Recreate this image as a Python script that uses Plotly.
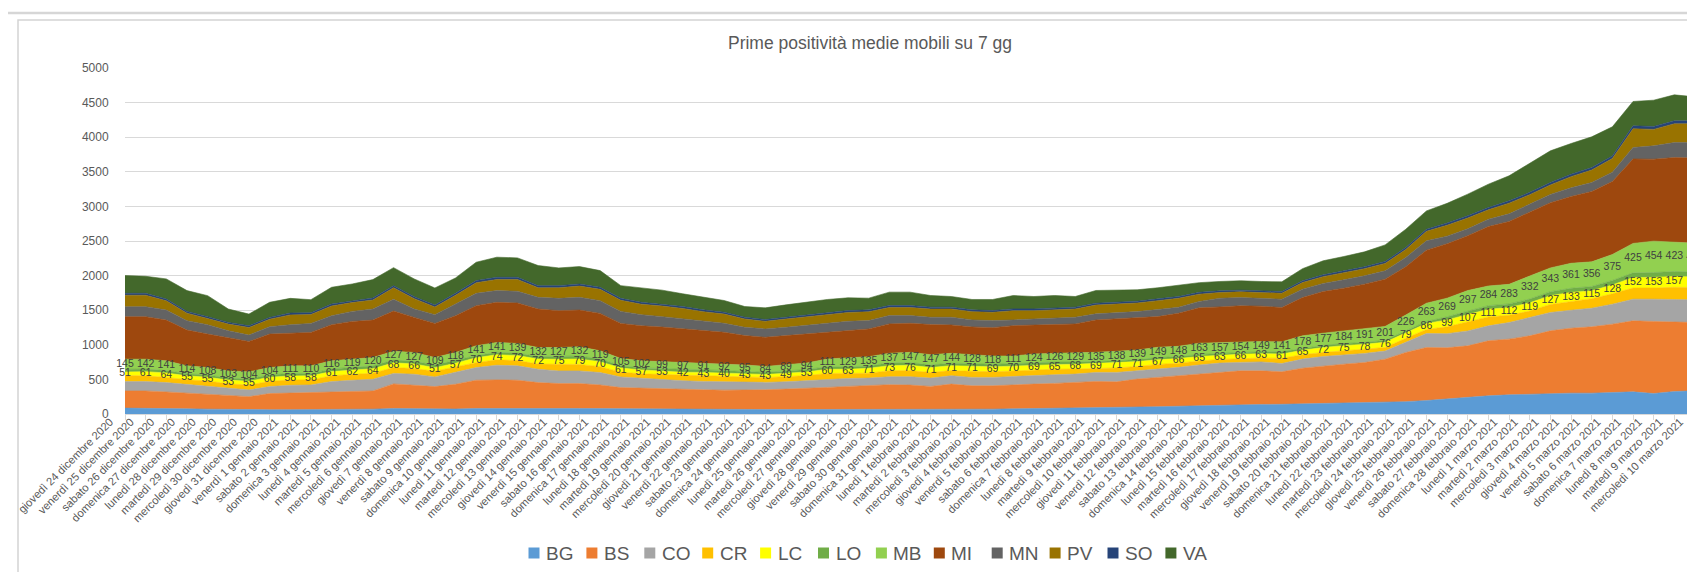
import plotly.graph_objects as go

dates = [
    "giovedì 24 dicembre 2020", "venerdì 25 dicembre 2020", "sabato 26 dicembre 2020",
    "domenica 27 dicembre 2020", "lunedì 28 dicembre 2020", "martedì 29 dicembre 2020",
    "mercoledì 30 dicembre 2020", "giovedì 31 dicembre 2020", "venerdì 1 gennaio 2021",
    "sabato 2 gennaio 2021", "domenica 3 gennaio 2021", "lunedì 4 gennaio 2021",
    "martedì 5 gennaio 2021", "mercoledì 6 gennaio 2021", "giovedì 7 gennaio 2021",
    "venerdì 8 gennaio 2021", "sabato 9 gennaio 2021", "domenica 10 gennaio 2021",
    "lunedì 11 gennaio 2021", "martedì 12 gennaio 2021", "mercoledì 13 gennaio 2021",
    "giovedì 14 gennaio 2021", "venerdì 15 gennaio 2021", "sabato 16 gennaio 2021",
    "domenica 17 gennaio 2021", "lunedì 18 gennaio 2021", "martedì 19 gennaio 2021",
    "mercoledì 20 gennaio 2021", "giovedì 21 gennaio 2021", "venerdì 22 gennaio 2021",
    "sabato 23 gennaio 2021", "domenica 24 gennaio 2021", "lunedì 25 gennaio 2021",
    "martedì 26 gennaio 2021", "mercoledì 27 gennaio 2021", "giovedì 28 gennaio 2021",
    "venerdì 29 gennaio 2021", "sabato 30 gennaio 2021", "domenica 31 gennaio 2021",
    "lunedì 1 febbraio 2021", "martedì 2 febbraio 2021", "mercoledì 3 febbraio 2021",
    "giovedì 4 febbraio 2021", "venerdì 5 febbraio 2021", "sabato 6 febbraio 2021",
    "domenica 7 febbraio 2021", "lunedì 8 febbraio 2021", "martedì 9 febbraio 2021",
    "mercoledì 10 febbraio 2021", "giovedì 11 febbraio 2021", "venerdì 12 febbraio 2021",
    "sabato 13 febbraio 2021", "domenica 14 febbraio 2021", "lunedì 15 febbraio 2021",
    "martedì 16 febbraio 2021", "mercoledì 17 febbraio 2021", "giovedì 18 febbraio 2021",
    "venerdì 19 febbraio 2021", "sabato 20 febbraio 2021", "domenica 21 febbraio 2021",
    "lunedì 22 febbraio 2021", "martedì 23 febbraio 2021", "mercoledì 24 febbraio 2021",
    "giovedì 25 febbraio 2021", "venerdì 26 febbraio 2021", "sabato 27 febbraio 2021",
    "domenica 28 febbraio 2021", "lunedì 1 marzo 2021", "martedì 2 marzo 2021",
    "mercoledì 3 marzo 2021", "giovedì 4 marzo 2021", "venerdì 5 marzo 2021",
    "sabato 6 marzo 2021", "domenica 7 marzo 2021", "lunedì 8 marzo 2021",
    "martedì 9 marzo 2021", "mercoledì 10 marzo 2021",
]

BG = [85, 85, 83, 75, 70, 65, 62, 62, 63, 63, 65, 68, 70, 80,
      75, 70, 72, 80, 82, 82, 80, 80, 80, 78, 75, 72, 70,
      68, 67, 66, 65, 64, 64, 64, 64, 64, 64, 64, 64, 64,
      65, 68, 70, 75, 78, 80, 83, 88, 92, 98, 105, 112, 120,
      132, 135, 138, 140, 145, 150, 155, 160, 165, 178, 195,
      220, 238, 263, 277, 287, 296, 301, 301, 311, 320, 296, 325, 335]
BS = [248, 248, 236, 225, 215, 201, 189, 233, 241, 246, 254, 261, 263, 355,
      345, 326, 358, 408, 411, 406, 374, 360, 360, 342, 307, 300, 290,
      282, 283, 279, 280, 286, 296, 305, 320, 335, 344, 359, 354, 335,
      367, 340, 338, 348, 354, 362, 373, 383, 373, 407, 424, 441, 466,
      477, 489, 486, 470, 517, 546, 565, 584, 627, 711, 766,
      737, 747, 795, 805, 843, 906, 939, 959, 987, 1026, 1041, 1007, 987]
CO = [136, 136, 135, 130, 121, 106, 97, 101, 111, 111, 150, 159, 169, 152,
      155, 140, 169, 183, 212, 208, 193, 183, 183, 179, 154, 145, 135,
      131, 121, 121, 112, 107, 106, 112, 121, 115, 111, 116, 121, 120,
      121, 121, 121, 120, 131, 126, 121, 130, 136, 120, 121, 121, 123,
      127, 122, 129, 120, 131, 135, 131, 131, 118, 144, 202,
      204, 215, 216, 240, 265, 265, 260, 269, 289, 313, 322, 327, 328]
CR = [87, 82, 74, 66, 70, 65, 70, 76, 76, 73, 83, 84, 88, 84,
      82, 82, 78, 71, 78, 76, 75, 93, 93, 85, 68, 63, 75,
      80, 87, 84, 77, 71, 73, 74, 81, 70, 70, 87, 88, 82,
      74, 88, 83, 78, 75, 80, 73, 58, 65, 61, 67, 61, 58,
      52, 52, 56, 75, 64, 58, 62, 54, 51, 61, 59,
      100, 130, 129, 105, 93, 116, 124, 137, 150, 161, 162, 172, 178]
LC = [51, 61, 64, 55, 55, 53, 55, 60, 58, 58, 61, 62, 64, 68,
      66, 51, 57, 70, 74, 72, 72, 75, 79, 70, 61, 57, 53,
      42, 43, 40, 43, 43, 49, 53, 60, 63, 71, 73, 76, 71,
      71, 71, 69, 70, 69, 65, 68, 69, 71, 71, 67, 66, 65,
      63, 66, 63, 61, 65, 72, 75, 78, 76, 79, 86,
      99, 107, 111, 112, 119, 127, 133, 115, 128, 152, 153, 157, 151]
LO = [40, 38, 35, 31, 32, 30, 32, 35, 36, 35, 39, 39, 42, 40,
      39, 38, 37, 33, 36, 36, 35, 43, 44, 40, 32, 29, 35,
      37, 40, 40, 36, 33, 35, 35, 38, 33, 33, 41, 41, 38,
      35, 41, 39, 36, 36, 38, 35, 28, 31, 29, 31, 29, 28,
      25, 25, 27, 36, 30, 30, 30, 28, 28, 32, 30,
      45, 50, 52, 52, 55, 58, 60, 62, 65, 68, 70, 72, 75]
MB = [145, 142, 141, 114, 108, 103, 104, 104, 111, 110, 116, 119, 120, 127,
      127, 109, 118, 141, 141, 139, 132, 127, 132, 119, 105, 102, 99,
      97, 91, 92, 95, 84, 89, 94, 111, 129, 135, 137, 147, 147,
      144, 128, 118, 111, 124, 126, 129, 135, 138, 139, 149, 148, 163,
      157, 154, 149, 141, 178, 177, 184, 191, 201, 226, 263,
      269, 297, 284, 283, 332, 343, 361, 356, 375, 425, 454, 423, 414]
MI = [614, 614, 589, 517, 484, 474, 439, 484, 473, 483, 522, 546, 541, 582,
      507, 493, 531, 579, 580, 585, 556, 532, 531, 541, 507, 507, 500,
      492, 473, 459, 425, 421, 421, 420, 386, 396, 401, 425, 420, 435,
      410, 401, 410, 439, 420, 419, 419, 468, 468, 458, 444, 478, 511,
      515, 520, 510, 496, 553, 602, 616, 650, 682, 696, 767,
      786, 792, 859, 908, 920, 942, 965, 1016, 1055, 1221, 1184, 1223, 1232]
MN = [145, 145, 145, 135, 135, 106, 92, 106, 121, 130, 130, 145, 160, 169,
      121, 126, 169, 179, 169, 169, 169, 178, 184, 184, 174, 160, 150,
      145, 135, 130, 120, 120, 120, 130, 130, 135, 121, 121, 112, 106,
      111, 102, 102, 83, 87, 88, 97, 88, 87, 97, 102, 87, 92,
      125, 120, 115, 120, 121, 116, 121, 121, 121, 135, 134,
      110, 100, 105, 110, 115, 120, 125, 130, 135, 165, 193, 217, 223]
PV = [165, 165, 133, 109, 90, 96, 110, 109, 142, 128, 141, 127, 130, 168,
      150, 112, 126, 153, 161, 171, 138, 153, 162, 163, 159, 151, 153,
      151, 138, 133, 120, 110, 120, 118, 123, 127, 127, 116, 116, 118,
      119, 119, 119, 133, 119, 123, 119, 127, 128, 124, 128, 129, 106,
      82, 82, 82, 86, 95, 99, 103, 103, 107, 115, 138,
      158, 156, 137, 155, 140, 137, 162, 180, 198, 271, 238, 270, 270]
SO = [28, 28, 27, 26, 26, 25, 25, 26, 27, 27, 28, 28, 29, 30,
      29, 28, 29, 31, 32, 32, 31, 31, 31, 30, 29, 28, 28,
      28, 27, 27, 26, 26, 26, 27, 27, 28, 28, 29, 29, 28,
      27, 26, 26, 26, 26, 27, 27, 27, 27, 26, 26, 26, 26,
      25, 25, 25, 25, 26, 26, 27, 27, 28, 29, 30,
      32, 32, 33, 33, 34, 35, 35, 36, 37, 42, 42, 43, 43]
VA = [256, 246, 290, 300, 304, 193, 169, 218, 212, 188, 242, 241, 266, 260,
      256, 246, 222, 265, 290, 280, 290, 256, 251, 241, 184, 207, 202,
      184, 183, 169, 154, 169, 178, 184, 194, 184, 169, 193, 193, 168,
      154, 150, 160, 193, 179, 178, 154, 184, 179, 165, 160, 160, 140,
      135, 135, 135, 140, 175, 203, 207, 216, 240, 264, 265,
      284, 313, 337, 362, 417, 458, 444, 444, 420, 352, 380, 376, 347]

series_names = ["BG", "BS", "CO", "CR", "LC", "LO", "MB", "MI", "MN", "PV", "SO", "VA"]
series_values = [BG, BS, CO, CR, LC, LO, MB, MI, MN, PV, SO, VA]
series_colors = ["#5B9BD5", "#ED7D31", "#A5A5A5", "#FFC000", "#FFFF00", "#70AD47",
                 "#92D050", "#9E480E", "#636363", "#997300", "#264478", "#43682B"]

title_text = "Prime positività medie mobili su 7 gg"

# pixel geometry helpers
W, H = 1695, 572
L, R, T, B = 117, 8, 60, 166
PW, PH = W - L - R, H - T - B


def px(xp):
    return (xp - L) / PW


def py(yp):
    return (H - B - yp) / PH


x = list(range(len(dates)))
fig = go.Figure()

for name, vals, col in zip(series_names, series_values, series_colors):
    fig.add_trace(go.Scatter(
        x=x, y=vals, name=name, mode="lines", stackgroup="one",
        line=dict(width=0.6, color=col), fillcolor=col,
        showlegend=False, hoverinfo="skip"))

# data labels (centred in the LC and MB bands)
below_lc = [BG[i] + BS[i] + CO[i] + CR[i] for i in x]
lc_mid = [below_lc[i] + LC[i] / 2 for i in x]
below_mb = [below_lc[i] + LC[i] + LO[i] for i in x]
mb_mid = [below_mb[i] + MB[i] / 2 for i in x]

label_font = dict(family="Liberation Sans, Arial, sans-serif", size=10.5, color="#404040")
fig.add_trace(go.Scatter(x=x, y=lc_mid, text=[str(v) for v in LC], mode="text",
                         textposition="middle center", textfont=label_font,
                         showlegend=False, hoverinfo="skip", cliponaxis=False))
fig.add_trace(go.Scatter(x=x, y=mb_mid, text=[str(v) for v in MB], mode="text",
                         textposition="middle center", textfont=label_font,
                         showlegend=False, hoverinfo="skip", cliponaxis=False))

# legend drawn as swatches + labels below the chart
legend_start, legend_pitch, legend_y = 526, 57.9, 545
shapes = [
    dict(type="line", xref="paper", yref="paper", x0=px(0), x1=px(W), y0=py(5), y1=py(5),
         line=dict(color="#D6D6D6", width=2.5), layer="above"),
    dict(type="rect", xref="paper", yref="paper", x0=px(10), x1=px(W + 20),
         y0=py(12), y1=py(H + 30), line=dict(color="#D4D4D4", width=1.5),
         fillcolor="rgba(0,0,0,0)", layer="below"),
]
annotations = []
for k, (name, col) in enumerate(zip(series_names, series_colors)):
    cx = legend_start + k * legend_pitch
    shapes.append(dict(type="rect", xref="paper", yref="paper",
                       x0=px(cx - 5.5), x1=px(cx + 5.5),
                       y0=py(legend_y + 5.5), y1=py(legend_y - 5.5),
                       fillcolor=col, line=dict(width=0), layer="above"))
    annotations.append(dict(text=name, xref="paper", yref="paper",
                            x=px(cx + 10), y=py(legend_y), xanchor="left", yanchor="middle",
                            showarrow=False, font=dict(size=19, color="#595959")))

fig.update_layout(
    width=W, height=H,
    template="none",
    paper_bgcolor="white", plot_bgcolor="white",
    margin=dict(l=L, r=R, t=T, b=B, autoexpand=False),
    font=dict(family="Liberation Sans, Arial, sans-serif", color="#595959"),
    title=dict(text=title_text, x=px(862), xref="paper", xanchor="center",
               y=1 - 35 / H, yref="container", yanchor="middle",
               font=dict(size=17.5, color="#595959")),
    showlegend=False,
    xaxis=dict(range=[0, len(dates) - 1], tickmode="array", tickvals=x, ticktext=dates,
               tickangle=-45, tickfont=dict(size=11.2, color="#595959"),
               ticks="outside", ticklen=5, tickcolor="#D9D9D9",
               ticklabelstandoff=-9, ticklabelshift=-15,
               showline=True, linecolor="#D9D9D9", linewidth=1,
               showgrid=False, zeroline=False, automargin=False, fixedrange=True),
    yaxis=dict(range=[0, 5000], tick0=0, dtick=500, tickfont=dict(size=12, color="#595959"),
               ticks="outside", ticklen=13, tickcolor="rgba(0,0,0,0)",
               showgrid=True, gridcolor="#D9D9D9", gridwidth=1,
               showline=False, zeroline=False, automargin=False, fixedrange=True),
    shapes=shapes,
    annotations=annotations,
)

fig.write_html("out.html")
